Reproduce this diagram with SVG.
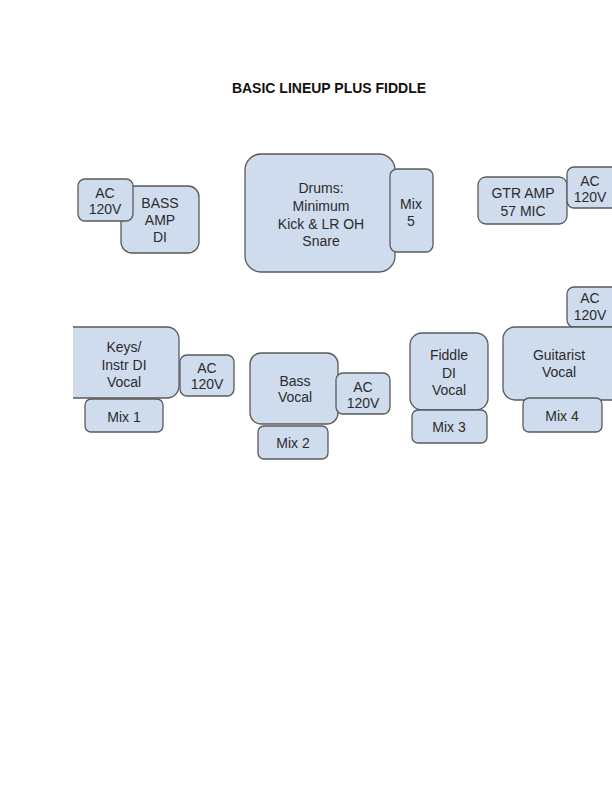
<svg xmlns="http://www.w3.org/2000/svg" width="612" height="792" viewBox="0 0 612 792">
<style>
.b{fill:#cfdcee;stroke:#5a5a5a;stroke-width:1.3}
.t{font-family:"Liberation Sans",Arial,sans-serif;font-size:14px;fill:#2b2b2b;text-anchor:middle}
.h{font-family:"Liberation Sans",Arial,sans-serif;font-size:14px;font-weight:bold;fill:#111;text-anchor:middle}
</style>
<defs><clipPath id="cl"><rect x="73" y="0" width="539" height="792"/></clipPath></defs>
<rect width="612" height="792" fill="#fff"/>
<text class="h" x="329" y="93">BASIC LINEUP PLUS FIDDLE</text>
<g id="bass-amp"><rect class="b" x="121" y="186" width="78" height="67" rx="11"/><text class="t" x="160" y="208">BASS</text><text class="t" x="160" y="225">AMP</text><text class="t" x="160" y="242">DI</text></g>
<g id="ac-bass"><rect class="b" x="78" y="179" width="55" height="42" rx="7"/><text class="t" x="105" y="198">AC</text><text class="t" x="105" y="214">120V</text></g>
<g id="drums"><rect class="b" x="245" y="154" width="150" height="118" rx="16"/><text class="t" x="321" y="193">Drums:</text><text class="t" x="321" y="211">Minimum</text><text class="t" x="321" y="229">Kick &amp; LR OH</text><text class="t" x="321" y="246">Snare</text></g>
<g id="mix5"><rect class="b" x="390" y="169" width="43" height="83" rx="7"/><text class="t" x="411" y="209">Mix</text><text class="t" x="411" y="226">5</text></g>
<g id="gtr-amp"><rect class="b" x="478" y="177" width="89" height="47" rx="8"/><text class="t" x="523" y="198">GTR AMP</text><text class="t" x="523" y="216">57 MIC</text></g>
<g id="ac-gtr"><rect class="b" x="567" y="167" width="60" height="41" rx="7"/><text class="t" x="590" y="186">AC</text><text class="t" x="590" y="202">120V</text></g>
<g id="ac-guitarist"><rect class="b" x="567" y="287" width="60" height="40" rx="7"/><text class="t" x="590" y="303">AC</text><text class="t" x="590" y="320">120V</text></g>
<g id="keys"><rect class="b" x="60" y="327" width="119" height="71" rx="12" clip-path="url(#cl)"/><text class="t" x="124" y="352">Keys/</text><text class="t" x="124" y="370">Instr DI</text><text class="t" x="124" y="387">Vocal</text></g>
<g id="mix1"><rect class="b" x="85" y="399" width="78" height="33" rx="6"/><text class="t" x="124" y="422">Mix 1</text></g>
<g id="ac-keys"><rect class="b" x="180" y="355" width="54" height="41" rx="7"/><text class="t" x="207" y="373">AC</text><text class="t" x="207" y="389">120V</text></g>
<g id="bass-vocal"><rect class="b" x="250" y="353" width="88" height="71" rx="11"/><text class="t" x="295" y="386">Bass</text><text class="t" x="295" y="402">Vocal</text></g>
<g id="ac-bass-vocal"><rect class="b" x="336" y="373" width="54" height="41" rx="7"/><text class="t" x="363" y="392">AC</text><text class="t" x="363" y="408">120V</text></g>
<g id="mix2"><rect class="b" x="258" y="426" width="70" height="33" rx="6"/><text class="t" x="293" y="448">Mix 2</text></g>
<g id="fiddle"><rect class="b" x="410" y="333" width="78" height="77" rx="12"/><text class="t" x="449" y="360">Fiddle</text><text class="t" x="449" y="378">DI</text><text class="t" x="449" y="395">Vocal</text></g>
<g id="mix3"><rect class="b" x="412" y="410" width="75" height="33" rx="6"/><text class="t" x="449" y="432">Mix 3</text></g>
<g id="guitarist"><rect class="b" x="503" y="327" width="124" height="73" rx="12"/><text class="t" x="559" y="360">Guitarist</text><text class="t" x="559" y="377">Vocal</text></g>
<g id="mix4"><rect class="b" x="523" y="398" width="79" height="34" rx="6"/><text class="t" x="562" y="421">Mix 4</text></g>
<g id="connectors"/>
</svg>
